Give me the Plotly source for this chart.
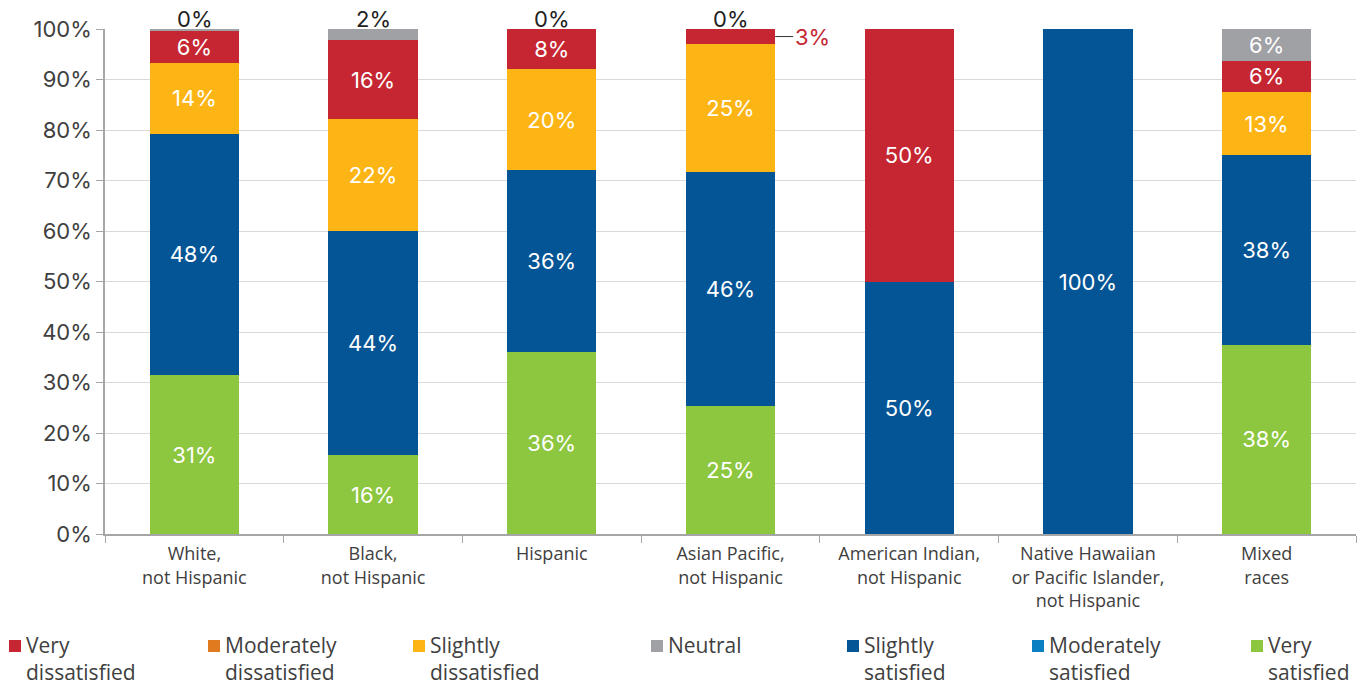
import plotly.graph_objects as go

categories = [
    "White,<br>not Hispanic",
    "Black,<br>not Hispanic",
    "Hispanic",
    "Asian Pacific,<br>not Hispanic",
    "American Indian,<br>not Hispanic",
    "Native Hawaiian<br>or Pacific Islander,<br>not Hispanic",
    "Mixed<br>races",
]

# shares in percent, per response level
very_satisfied = [31.4, 15.56, 36.0, 25.37, 0, 0, 37.5]
moderately_satisfied = [0, 0, 0, 0, 0, 0, 0]
slightly_satisfied = [47.9, 44.44, 36.0, 46.27, 50, 100, 37.5]
slightly_dissatisfied = [14.0, 22.22, 20.0, 25.37, 0, 0, 12.5]
moderately_dissatisfied = [0, 0, 0, 0, 0, 0, 0]
very_dissatisfied = [6.3, 15.56, 8.0, 2.99, 50, 0, 6.25]
neutral = [0.4, 2.22, 0, 0, 0, 0, 6.25]

y_ticks = [0, 10, 20, 30, 40, 50, 60, 70, 80, 90, 100]

NUM_FONT = "Inter"
TXT_FONT = "Open Sans"
DARK = "#404040"

# page has an 8px body margin, so the figure is drawn 8px smaller
W, H = 1357, 680
L, R, T, B = 97, 9, 21, 154


def pct(v):
    return f"{int(v + 0.5)}%"


# bottom-up stacking order; last field = legend slot (left to right)
series = [
    ("Very<br>satisfied", very_satisfied, "#8DC63F", 6),
    ("Moderately<br>satisfied", moderately_satisfied, "#0A7FC2", 5),
    ("Slightly<br>satisfied", slightly_satisfied, "#045595", 4),
    ("Slightly<br>dissatisfied", slightly_dissatisfied, "#FDB515", 2),
    ("Moderately<br>dissatisfied", moderately_dissatisfied, "#E07A1F", 1),
    ("Very<br>dissatisfied", very_dissatisfied, "#C52632", 0),
    ("Neutral", neutral, "#A0A1A4", 3),
]

# legend swatch left edge, in px from the figure's left edge
legend_px = [1, 200, 405, 643, 839, 1024, 1243]
plot_w = W - L - R
plot_h = H - T - B


def px_x(p):
    return (p - L) / plot_w


def px_y(p):
    return (H - B - p) / plot_h


fig = go.Figure()

for name, vals, color, slot in series:
    labels = [pct(v) if v >= 5 else "" for v in vals]
    fig.add_trace(go.Bar(
        x=categories,
        y=vals,
        name=name,
        showlegend=False,
        marker=dict(color=color, line=dict(width=0)),
        text=labels,
        textposition="inside",
        insidetextanchor="middle",
        textangle=0,
        constraintext="none",
        textfont=dict(family=NUM_FONT, size=22, color="white"),
        hoverinfo="skip",
    ))
    # legend entry: swatch + two-line label
    s = legend_px[slot]
    fig.add_shape(
        type="rect", xref="paper", yref="paper",
        x0=px_x(s), x1=px_x(s + 12), y0=px_y(644), y1=px_y(632),
        fillcolor=color, line=dict(width=0),
    )
    fig.add_annotation(
        xref="paper", yref="paper", x=px_x(s + 15), y=px_y(621),
        text=name, showarrow=False, xanchor="left", yanchor="top", align="left",
        font=dict(family=TXT_FONT, size=21, color=DARK),
    )

# neutral share printed above the first four bars
totals = [sum(s[1][i] for s in series) for i in range(len(categories))]
for i in range(4):
    fig.add_annotation(
        x=categories[i], y=totals[i], text=pct(neutral[i]) if neutral[i] >= 0.5 else "0%",
        showarrow=False, yanchor="bottom", yshift=-5,
        font=dict(family=NUM_FONT, size=22, color="#222222"),
    )

# small very-dissatisfied slice for Asian Pacific, called out to the side
i = 3
fig.add_annotation(
    x=i + 0.25, y=totals[i] - neutral[i] - very_dissatisfied[i] / 2,
    text=pct(very_dissatisfied[i]),
    showarrow=True, arrowhead=0, arrowwidth=1, arrowcolor="#333333",
    ax=18, ay=0, xanchor="left",
    font=dict(family=NUM_FONT, size=22, color="#C52632"),
)

fig.update_layout(
    barmode="stack",
    bargap=0.5,
    width=W,
    height=H,
    margin=dict(l=L, r=R, t=T, b=B, autoexpand=False),
    plot_bgcolor="white",
    paper_bgcolor="white",
    showlegend=False,
    font=dict(family=TXT_FONT, color=DARK),
    xaxis=dict(
        type="category",
        tickson="boundaries",
        ticks="outside",
        ticklen=7,
        tickcolor="#a6a6a6",
        showline=True,
        linecolor="#a6a6a6",
        linewidth=1.5,
        automargin=False,
        ticklabelstandoff=3,
        tickfont=dict(family=TXT_FONT, size=18, color=DARK),
    ),
    yaxis=dict(
        range=[0, 100],
        tickvals=y_ticks,
        ticktext=[f"{t}%" for t in y_ticks],
        ticks="outside",
        ticklen=7,
        tickcolor="#a6a6a6",
        showline=True,
        linecolor="#a6a6a6",
        linewidth=1.5,
        gridcolor="#d9d9d9",
        gridwidth=1.2,
        automargin=False,
        tickfont=dict(family=NUM_FONT, size=22, color=DARK),
        zeroline=False,
    ),
)

fig.write_html("out.html")
